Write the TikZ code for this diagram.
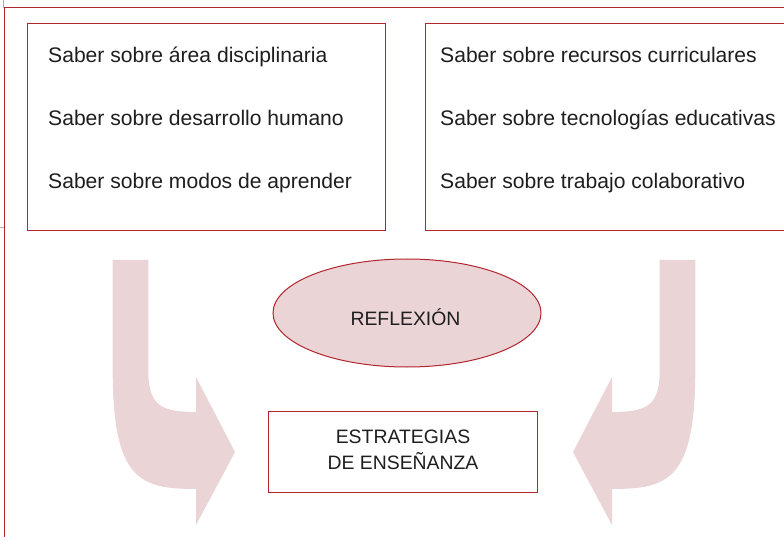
\documentclass[tikz,border=0pt]{standalone}
\usepackage{fontspec}
\setmainfont{Liberation Sans}
\usetikzlibrary{shapes.geometric}
\definecolor{framered}{RGB}{178,38,48}
\definecolor{pinkfill}{RGB}{234,212,214}
\definecolor{txt}{RGB}{30,30,30}
\tikzset{
  frameline/.style={draw=framered, line width=1pt},
  item/.style={anchor=base west, inner sep=0pt, font=\fontsize{21.1}{24}\selectfont, text=txt},
  bigarrow/.style={fill=pinkfill, draw=none},
  label/.style={font=\fontsize{19.4}{26}\selectfont, text=txt, align=center}
}
\begin{document}
\begin{tikzpicture}[x=1pt,y=-1pt]
\useasboundingbox (0,0) rectangle (784,537);
\clip (0,0) rectangle (784,537);
% crop marks
\draw[gray!60, line width=0.6pt] (3.5,0) -- (3.5,8);
\draw[gray!60, line width=0.6pt] (0,227) -- (4,227);
% outer frame
\draw[frameline] (4,8) rectangle (800,560);
% boxes
\draw[frameline] (27,24) rectangle (385,231);
\draw[frameline] (425,24) rectangle (800,231);
\node[item] (l1) at (48,63) {Saber sobre área disciplinaria};
\node[item] (l2) at (48,126) {Saber sobre desarrollo humano};
\node[item] (l3) at (48,189) {Saber sobre modos de aprender};
\node[item] (r1) at (440,63) {Saber sobre recursos curriculares};
\node[item] (r2) at (440,126) {Saber sobre tecnologías educativas};
\node[item] (r3) at (440,189) {Saber sobre trabajo colaborativo};
% arrows
\fill[bigarrow] (112.7,260) -- (148.3,260) -- (148.3,370)
  .. controls (148.3,405) and (160,412) .. (196,412) -- (196,377) -- (235,452)
  -- (196,525) -- (196,489) .. controls (140,489) and (112.7,480) .. (112.7,370) -- cycle;
\fill[bigarrow] (695.3,260) -- (659.7,260) -- (659.7,370)
  .. controls (659.7,405) and (648,412) .. (612,412) -- (612,377) -- (573,452)
  -- (612,525) -- (612,489) .. controls (668,489) and (695.3,480) .. (695.3,370) -- cycle;
% ellipse
\node[ellipse, draw=framered, line width=1pt, fill=pinkfill, minimum width=268pt, minimum height=108pt, inner sep=0pt] (refl) at (407,313) {};
\node[label] (refltext) at (405.5,317) {REFLEXIÓN};
% strategy box
\node[draw=framered, line width=1pt, minimum width=269pt, minimum height=81pt, inner sep=0pt] (estr) at (402.5,451.5) {};
\node[label, anchor=base] (e1) at (403,443) {ESTRATEGIAS};
\node[label, anchor=base] (e2) at (403,469) {DE ENSEÑANZA};
\end{tikzpicture}
\end{document}
